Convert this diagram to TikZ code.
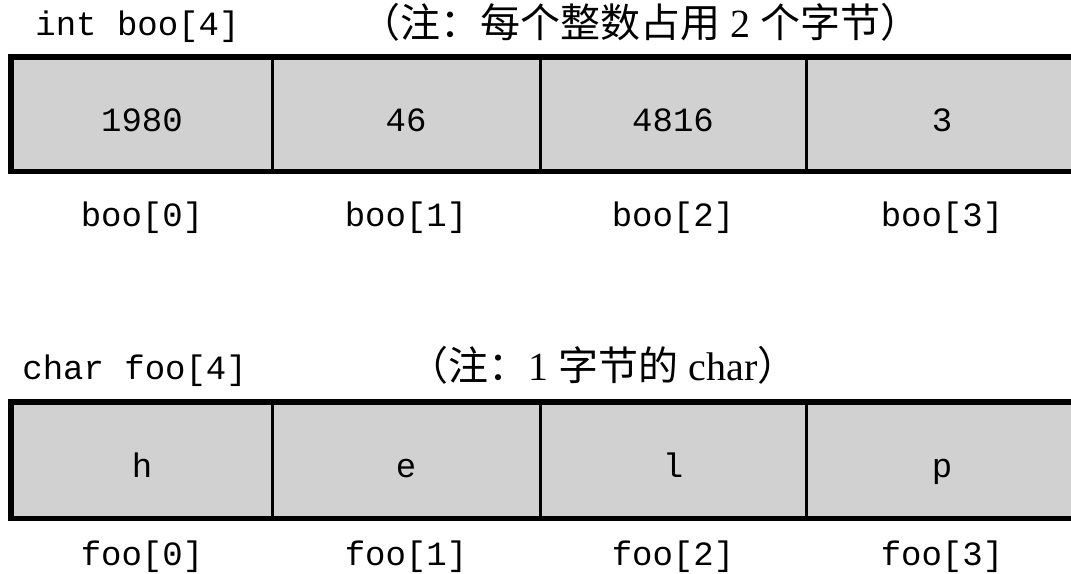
\documentclass[tikz,border=0pt]{standalone}
\usepackage{fontspec}
\setmainfont{Liberation Serif}
\setmonofont{Liberation Mono}
\newfontfamily\cjk{Noto Sans CJK SC}
\usetikzlibrary{positioning}
\definecolor{cellgray}{gray}{0.82}

\begin{document}
\begin{tikzpicture}[x=0.5pt, y=-0.5pt,
    monofont/.style={font=\ttfamily\fontsize{17}{20}\selectfont},
    cellbox/.style={monofont, draw=black, fill=cellgray, line width=1.5pt, minimum height=56pt,
      inner sep=0pt, text height=17pt, text depth=0pt},
    idxlabel/.style={monofont, inner sep=0pt, anchor=base},
    notetext/.style={font=\fontsize{20}{24}\selectfont, inner sep=0pt, anchor=base},
    outerline/.style={draw=black, line width=2.2pt}]
  \useasboundingbox[fill=white] (0,0) rectangle (1071,573);
  % int boo[4]: four cells of two bytes each
  \node[idxlabel, anchor=base west] (boo-title) at (35,35) {int boo[4]};
  \node[notetext] (boo-note) at (640,37) {{\cjk （注：每个整数占用}~2~{\cjk 个字节）}};
  \foreach \idx/\xl/\xr/\val in {0/12/272/1980, 1/272/540/46, 2/540/806/4816, 3/806/1078/3}
  {
    \node[cellbox, minimum width={(\xr-\xl)*0.5pt}] (boo-\idx) at ({(\xl+\xr)/2},114) {\val};
    \node[idxlabel] (boo-lbl-\idx) at ({(\xl+\xr)/2},226) {boo[\idx]};
  }
  \draw[outerline] (boo-0.north west) rectangle (boo-3.south east);
  % char foo[4]: four cells of one byte each
  \node[idxlabel, anchor=base west] (foo-title) at (22,379) {char foo[4]};
  \node[notetext] (foo-note) at (603,380) {{\cjk （注：}1~{\cjk 字节的}~char{\cjk ）}};
  \foreach \idx/\xl/\xr/\val in {0/12/272/h, 1/272/540/e, 2/540/806/l, 3/806/1078/p}
  {
    \node[cellbox, minimum height=57pt, minimum width={(\xr-\xl)*0.5pt}] (foo-\idx) at ({(\xl+\xr)/2},460) {\val};
    \node[idxlabel] (foo-lbl-\idx) at ({(\xl+\xr)/2},565) {foo[\idx]};
  }
  \draw[outerline] (foo-0.north west) rectangle (foo-3.south east);
\end{tikzpicture}
\end{document}
